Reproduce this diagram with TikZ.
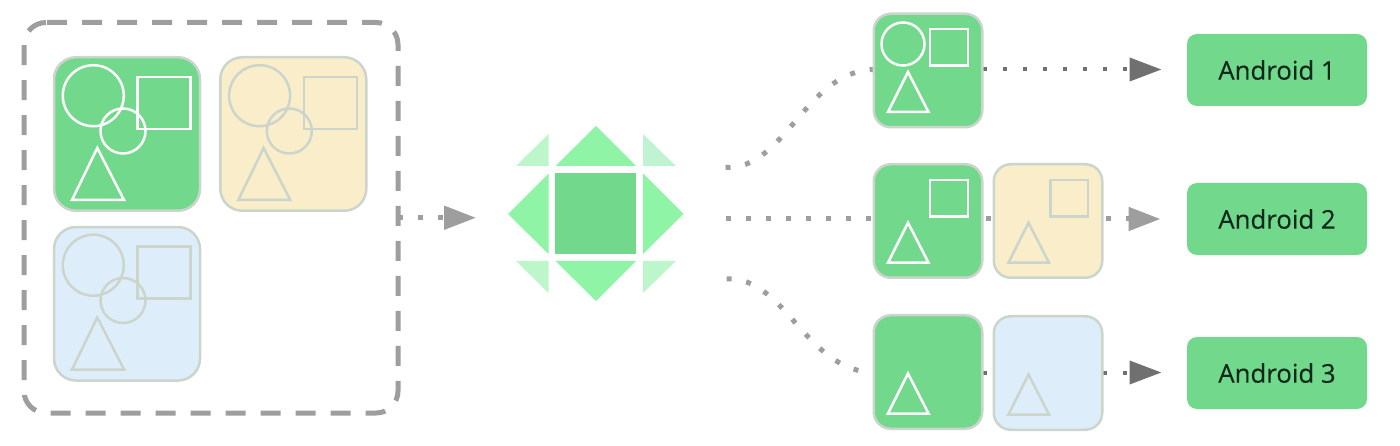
\documentclass[tikz,border=0pt]{standalone}
\usepackage{fontspec}
\setmainfont{Open Sans}
\newfontfamily\labelfont[FakeBold=0.35]{Open Sans}
\usetikzlibrary{arrows.meta,backgrounds}
\definecolor{gbox}{HTML}{72D88C}
\definecolor{gtri}{HTML}{8FF4A6}
\definecolor{gcornA}{HTML}{BEF6CB}
\definecolor{gcornB}{HTML}{BFF3D2}
\definecolor{ybox}{HTML}{F9EDCA}
\definecolor{bbox}{HTML}{DDEEFA}
\definecolor{edgeg}{HTML}{CBD5CC}
\definecolor{linea}{HTML}{9E9E9E}
\definecolor{lineb}{HTML}{707070}
\definecolor{txt}{HTML}{10291A}
\tikzset{
  frameb/.style={minimum width=374pt,minimum height=390.5pt,inner sep=0pt,outer sep=0pt},
  framedash/.style={draw=linea,line width=5pt,dash pattern=on 20pt off 15pt},
  bigbox/.style={draw=edgeg,line width=2.5pt,rounded corners=22pt,minimum width=146pt,minimum height=153.5pt,inner sep=0pt},
  smallbox/.style={draw=edgeg,line width=2.5pt,rounded corners=17pt,minimum width=108.5pt,minimum height=113.5pt,inner sep=0pt},
  osbox/.style={fill=gbox,rounded corners=10pt,minimum width=180pt,minimum height=72pt,inner sep=0pt,font=\labelfont\fontsize{25.8pt}{29pt}\selectfont,text=txt},
  shp/.style={line width=2.5pt,miter limit=4},
  dotsa/.style={draw=linea,line width=5pt,dash pattern=on 5pt off 15pt},
  dotsb/.style={draw=lineb,line width=4pt,dash pattern=on 4pt off 16pt},
  tipa/.style={-{Triangle[length=32pt,width=23pt,fill=linea,color=linea]}},
  tipb/.style={-{Triangle[length=32pt,width=23pt,fill=lineb,color=lineb]}},
  hubmain/.style={fill=gbox,minimum size=81pt,inner sep=0pt},
  hubtri/.style={fill=gtri},
}
\newcommand{\bigshapes}[3]{%
  \begin{scope}[shift={(#1,#2)}]
    \draw[shp,#3] (93.3,95.7) circle (30.5);
    \draw[shp,#3] (137.5,77) rectangle (190.5,129);
    \draw[shp,#3] (123,131) circle (22.5);
    \draw[shp,#3] (97.3,148) -- (72,200) -- (124,200) -- cycle;
  \end{scope}}
\newcommand{\smalltri}[3]{\draw[shp,#3] (#1,#2) -- (#1-20,#2+40) -- (#1+20.5,#2+40) -- cycle;}
\begin{document}
\begin{tikzpicture}[x=1pt,y=-1pt]
\useasboundingbox (0,0) rectangle (1400,446);
% input frame and shape boxes
\node[frameb] (frame) at (211,217.75) {};
\draw[framedash] (47,22.5) -- (376,22.5) arc[start angle=-90,end angle=0,radius=22] -- (398,391)
  arc[start angle=0,end angle=90,radius=22] -- (46,413)
  arc[start angle=90,end angle=180,radius=22] -- (24,44.5)
  arc[start angle=180,end angle=270,radius=22] -- cycle;
\node[bigbox,fill=gbox] (bg) at (127,134) {};
\node[bigbox,fill=ybox] (by) at (293.3,134) {};
\node[bigbox,fill=bbox] (bb) at (127,303.8) {};
\bigshapes{0}{0}{white}
\bigshapes{166.3}{0}{edgeg}
\bigshapes{0}{169.5}{edgeg}
% hub
\node[hubmain] (hub) at (595.5,213.5) {};
\fill[hubtri] (555.5,166) -- (636,166) -- (596,126) -- cycle;
\fill[hubtri] (555.5,261) -- (636,261) -- (596,301) -- cycle;
\fill[hubtri] (548.5,173.5) -- (548.5,254) -- (508,214) -- cycle;
\fill[hubtri] (643,173.5) -- (643,254) -- (683.5,214) -- cycle;
\fill[gcornA] (548.5,134) -- (548.5,166) -- (516,166) -- cycle;
\fill[gcornB] (643,134) -- (643,166) -- (676,166) -- cycle;
\fill[gcornA] (548.5,261) -- (516,261) -- (548.5,293) -- cycle;
\fill[gcornA] (643,261) -- (676,261) -- (643,293) -- cycle;
% output boxes
\node[smallbox,fill=gbox] (o1) at (928,70.5) {};
\node[smallbox,fill=gbox] (o2g) at (928,221) {};
\node[smallbox,fill=ybox] (o2y) at (1048,221) {};
\node[smallbox,fill=gbox] (o3g) at (928,372) {};
\node[smallbox,fill=bbox] (o3b) at (1048,373) {};
\draw[shp,white] (903,44) circle (21.5);
\draw[shp,white] (930,29) rectangle (968,65.7);
\smalltri{908}{72}{white}
\draw[shp,white] (930,180) rectangle (968,216.7);
\smalltri{908}{222.7}{white}
\draw[shp,edgeg] (1050.5,180) rectangle (1088,216.7);
\smalltri{1028.5}{222.7}{edgeg}
\smalltri{908}{373.5}{white}
\smalltri{1028.5}{374.5}{edgeg}
% targets
\node[osbox] (a1) at (1277,70) {Android 1};
\node[osbox] (a2) at (1277,219) {Android 2};
\node[osbox] (a3) at (1277,373) {Android 3};
% free ends of connectors
\coordinate (c0) at (476,217.75);
\coordinate (c1) at (725.5,167.5);
\coordinate (c2) at (725.5,219);
\coordinate (c3) at (726.5,279);
\coordinate (t1) at (1161.5,69.5);
\coordinate (t2) at (1160.5,219);
\coordinate (t3) at (1161.5,372.5);
\coordinate (p1) at (873,69.5);
\coordinate (q1) at (983,69.5);
\coordinate (p3) at (873,372.5);
\coordinate (q3) at (983,372.5);
\begin{scope}[on background layer]
  \draw[dotsa,tipa] (frame.east) -- (c0);
  \draw[dotsa] (c1) .. controls (785,170) and (805,72) .. (p1);
  \draw[dotsb,tipb] (q1) -- (t1);
  \draw[dotsa,tipa] (c2) -- (t2);
  \draw[dotsa] (c3) .. controls (785,276) and (805,370) .. (p3);
  \draw[dotsb,tipb] (q3) -- (t3);
\end{scope}
\end{tikzpicture}
\end{document}
